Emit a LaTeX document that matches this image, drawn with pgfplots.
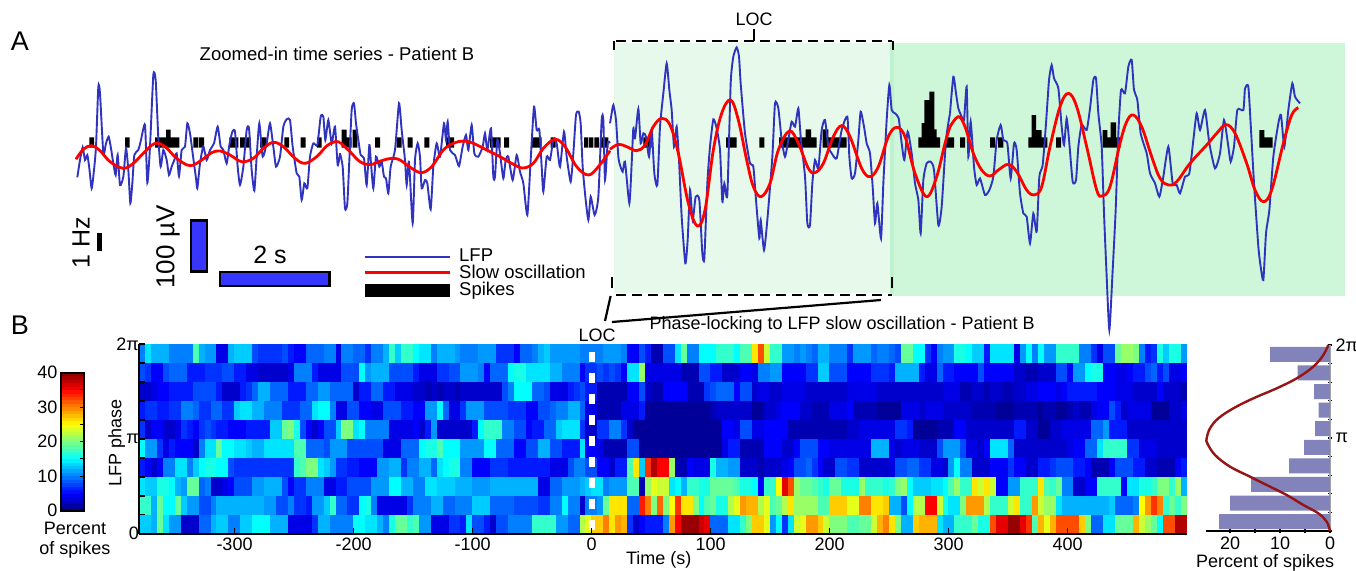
\documentclass[border=0pt]{standalone}
\usepackage{fontspec}
\setmainfont{Liberation Sans}
\usepackage{pgfplots}
\usepackage{pgfplotstable}
\pgfplotsset{compat=1.18}
\definecolor{lfp}{HTML}{2F33BE}
\definecolor{barblue}{HTML}{3636FF}
\definecolor{histbar}{HTML}{8383BB}
\definecolor{vm}{HTML}{971414}
\newcommand\fs{\fontsize{18}{20}\selectfont}
\newcommand\fl{\fontsize{18.5}{20}\selectfont}
\pgfplotstableread[row sep=\\,col sep=space,header=false]{
10 14 12 12 12 10 10 10 10 18  12 11 11 4 4 12 13 13 13 8  7 7 7 7 8 6 5 5 9 9  9 10 10 4 10 10 9 9 7 10
10 12 17 13 17 17 15 14 14 10  12 12 12 11 10 10 10 11 11 11  7 7 7 5 9 9 10 12 13 11  11 11 11 11 10 10 10 10 11 11
11 10 5 5 8 6 2 2 8 8  14 19 10 10 15 15 15 17 17 17  15 18 18 26 32 23 17 17 11 11  10 11 10 9 12 12 10 10 10 7
11 11 11 9 10 10 9 8 19 19  15 15 7 5 10 11 11 16 16 15  13 13 6 14 14 14 14 4 11 15  10 15 11 11 17 17 17 17 10 10
7 4 8 8 19 21 21 20 10 6  7 16 13 16 16 11 \\
8 7 5 5 8 9 9 9 6 6  6 7 7 7 8 8 6 6 4 4  3 3 3 3 3 4 10 10 10 6  4 4 4 4 8 8 8 15 11 12
12 12 8 8 8 8 6 4 4 4  7 7 8 8 11 11 11 10 5 9  9 9 15 16 16 14 14 14 14 12  12 10 10 10 5 7 7 8 7 8
7 5 14 14 21 4 4 4 4 4  4 2 2 2 8 8 6 6 3 3  3 5 5 4 10 10 11 11 5 5  5 5 7 7 13 13 8 8 8 5
5 5 5 7 7 7 6 12 12 12  12 6 4 4 9 6 6 5 5 5  5 8 5 5 5 5 5 3 3 2  2 3 3 3 8 8 5 11 11 15
16 16 5 5 4 4 5 6 6 8  9 6 8 4 4 5 \\
3 3 4 5 5 6 6 6 6 8  8 8 8 6 3 3 3 6 7 9  12 12 9 9 9 6 6 6 9 9  11 11 9 9 9 9 3 6 6 9
9 6 6 4 4 4 3 3 2 3  2 3 3 2 3 3 3 3 3 3  3 8 10 15 15 15 9 9 8 4  4 4 6 7 8 6 6 2 2 2
2 2 5 5 8 3 2 2 5 5  5 5 2 2 2 7 8 9 9 9  5 8 8 3 4 4 3 3 4 4  4 4 3 3 3 3 3 3 3 4
4 4 4 4 3 3 3 3 3 3  3 3 3 3 3 4 4 4 2 2  3 3 2 3 3 2 2 3 3 4  4 5 5 5 4 5 6 6 6 6
6 5 5 5 4 4 4 3 3 3  3 5 3 3 3 2 \\
6 7 7 6 6 7 7 10 10 9  7 7 9 9 7 7 13 14 14 12  12 10 10 10 7 7 7 9 9 14  15 15 10 4 4 8 8 5 5 4
4 8 8 8 6 6 5 5 11 11  15 9 4 4 7 11 11 11 8 8  8 8 7 7 7 5 5 8 8 9  10 10 12 12 9 4 4 2 2 2
2 4 4 4 6 1 1 1 1 1  1 1 1 1 1 1 2 3 3 3  3 3 3 1 1 3 3 4 5 5  5 3 3 2 2 2 4 4 4 5
2 2 2 2 1 1 1 1 4 4  4 3 4 4 4 3 3 3 3 3  2 2 2 2 1 1 1 2 2 2  2 1 2 2 1 1 2 3 2 2
4 5 5 8 6 3 4 4 4 4  1 1 1 3 3 4 \\
7 3 5 5 3 3 4 7 6 5  7 8 7 6 6 5 5 5 6 6  6 6 13 13 19 20 16 8 5 3  5 8 8 13 20 20 14 15 10 10
10 10 4 4 4 4 5 3 6 11  3 3 3 3 3 3 6 15 17 17  17 10 10 8 8 5 6 6 9 9  13 14 14 14 7 3 3 7 7 10
10 7 3 1 1 1 1 1 1 1  1 1 1 1 1 1 1 1 5 5  4 8 8 4 4 5 5 5 5 2  2 2 2 2 2 2 2 2 2 3
3 4 4 4 4 4 4 7 7 6  1 1 1 1 2 2 2 5 5 3  3 3 3 3 3 3 3 6 6 3  3 1 1 3 3 4 4 4 4 4
9 9 11 6 6 6 3 3 3 3  3 3 3 3 3 3 \\
15 11 11 7 4 6 5 5 5 3  10 14 14 19 15 15 14 14 13 12  12 14 14 14 14 14 18 18 9 9  9 8 11 11 11 8 8 8 8 8
8 4 4 4 9 9 9 15 16 16  18 15 15 15 11 11 11 11 15 15  9 9 9 5 5 8 8 12 12 8  8 6 6 6 14 5 5 4 2 2
2 2 8 8 1 1 1 1 1 1  1 1 1 1 1 1 1 1 4 6  6 2 2 2 2 5 5 5 3 3  5 8 8 8 5 5 4 4 4 4
4 4 4 12 12 12 4 3 4 4  4 3 3 3 8 11 11 11 8 4  4 3 5 14 14 14 9 3 3 3  3 3 3 3 3 3 4 5 5 9
9 14 17 17 17 17 7 7 4 4  4 3 3 3 3 3 \\
6 5 3 5 10 10 14 14 10 13  15 16 16 15 15 8 7 7 7 7  7 7 7 7 7 7 17 18 20 20  14 13 11 7 7 6 6 5 5 5
11 11 12 12 7 10 10 12 12 9  14 15 16 16 10 10 5 5 5 7  7 7 6 6 6 6 6 6 6 4  4 4 8 10 10 8 8 5 5 3
6 6 18 26 13 33 38 35 35 21  2 2 5 4 4 4 16 12 12 11  11 3 3 3 2 3 3 3 4 5  8 8 9 7 5 3 3 8 8 7
7 3 3 3 3 3 4 8 8 9  9 7 7 4 4 3 11 15 10 10  3 3 3 5 5 5 7 5 5 3  3 6 6 7 8 8 8 6 6 5
2 2 2 5 8 8 8 6 6 3  3 2 2 2 5 6 \\
14 13 13 16 16 15 12 11 19 19  9 10 3 3 4 5 8 8 8 11  11 12 12 12 8 5 7 7 10 10  10 4 4 6 6 8 8 8 8 11
11 11 15 15 12 12 10 10 14 14  13 13 13 12 12 12 11 11 11 12  12 12 12 12 12 12 12 4 4 9  9 11 11 11 12 13 14 14 10 11
11 11 18 18 2 21 24 23 23 14  15 12 17 17 16 16 19 19 19 19  18 16 16 15 5 17 17 25 36 32  21 19 19 18 17 16 19 19 16 16
16 21 17 17 17 16 17 20 21 15  13 13 13 14 14 15 18 21 17 17  26 23 26 23 5 5 11 11 17 17  17 26 18 17 19 10 10 3 3 5
5 17 17 17 17 5 14 14 16 16  17 20 20 17 21 12 \\
17 17 12 19 15 15 19 13 11 11  8 8 10 12 12 12 12 12 12 12  12 11 11 8 8 10 7 7 6 11  11 13 17 9 9 7 7 15 16 10
4 4 4 4 4 7 10 10 10 12  12 9 9 10 10 10 13 13 13 9  9 9 9 8 8 8 8 7 7 10  10 15 10 10 3 10 10 11 19 26
26 26 9 9 34 30 20 31 20 25  33 26 26 20 15 18 19 16 16 22  24 29 28 28 22 24 18 19 22 26  21 21 21 21 18 18 27 27 27 24
24 30 30 26 26 27 12 12 8 15  22 22 35 35 23 16 14 14 20 29  29 29 22 17 17 17 23 26 17 17  29 23 21 21 14 12 12 12 12 12
12 12 12 13 9 9 9 10 25 29  33 30 17 19 17 20 \\
13 13 12 19 14 11 11 3 3 3  9 9 12 13 13 10 10 13 13 15  15 15 12 12 12 4 4 4 4 7  12 12 10 10 10 10 15 15 14 14
12 10 16 19 19 17 18 11 11 4  4 4 7 7 6 14 8 8 6 3  8 8 10 10 10 10 17 17 17 17  11 11 9 9 22 24 27 27 30 26
29 28 7 3 5 6 6 6 10 29  35 39 39 39 37 36 9 9 9 14  14 17 20 27 27 24 11 15 7 14  23 24 29 29 27 23 20 20 20 18
18 19 19 23 28 30 26 20 12 12  27 28 28 28 14 12 12 17 17 17  19 16 16 32 36 36 39 39 36 33  18 28 24 28 32 32 32 32 27 20
9 9 14 14 19 19 19 28 23 21  19 15 32 32 38 38 \\
}\hmraw
\pgfplotstabletranspose\hm{\hmraw}
\begin{document}
\begin{tikzpicture}
\path[use as bounding box] (0pt,0pt) rectangle (1356pt,570pt);
% ---- panel A, in picture pixels
\begin{axis}[at={(0pt,0pt)},anchor=south west,scale only axis,width=1356pt,height=570pt,
  xmin=0,xmax=1356,ymin=0,ymax=570,y dir=reverse,hide axis,clip=false]
\fill[color={rgb,255:red,230;green,249;blue,234}] (axis cs:614,42.7) rectangle (axis cs:894,293.3);
\fill[color={rgb,255:red,206;green,247;blue,217}] (axis cs:890,43.3) rectangle (axis cs:1345,295.7);
\fill[color={rgb,255:red,190;green,242;blue,206}] (axis cs:890,43.3) rectangle (axis cs:894,293.3);
% spikes
\addplot[fill=black,draw=none,const plot,unbounded coords=jump] table[row sep=\\,header=false]{
89.3 147.5\\89.3 137.3\\94 147.5\\nan nan\\125 147.5\\125 137.3\\129.7 147.5\\nan nan\\155 147.5\\155 137.3\\166 129.5\\170.5 137.3\\179.3 147.5\\nan nan\\193.3 147.5\\193.3 137.3\\198.3 147.5\\nan nan\\199 147.5\\199 137.3\\204 147.5\\nan nan\\229.3 147.5\\229.3 137.3\\238.3 147.5\\nan nan\\240 147.5\\240 137.3\\250.7 147.5\\nan nan\\260 147.5\\260 137.3\\266.7 147.5\\nan nan\\284.3 147.5\\284.3 137.3\\289 147.5\\nan nan\\300.7 147.5\\300.7 137.3\\305.7 147.5\\nan nan\\317 147.5\\317 137.3\\321.7 147.5\\nan nan\\
341.7 147.5\\341.7 129.5\\346.7 137.3\\351.7 147.5\\nan nan\\352.7 147.5\\352.7 129.5\\357.3 147.5\\nan nan\\375 147.5\\375 137.3\\380 147.5\\nan nan\\396.7 147.5\\396.7 137.3\\401.7 147.5\\nan nan\\407.7 147.5\\407.7 137.3\\412.7 147.5\\nan nan\\424.3 147.5\\424.3 137.3\\429.3 147.5\\nan nan\\446 147.5\\446 137.3\\454 147.5\\nan nan\\490 147.5\\490 137.3\\495.3 147.5\\nan nan\\495.7 147.5\\495.7 137.3\\500.7 147.5\\nan nan\\504 147.5\\504 137.3\\509 147.5\\nan nan\\531.7 147.5\\531.7 137.3\\541.7 147.5\\nan nan\\550.7 147.5\\550.7 137.3\\555.7 147.5\\nan nan\\584 147.5\\584 137.3\\588.3 147.5\\nan nan\\589 147.5\\589 137.3\\593.3 147.5\\nan nan\\594.3 147.5\\594.3 137.3\\599 147.5\\nan nan\\600 147.5\\600 137.3\\608.3 147.5\\nan nan\\
643.3 147.5\\643.3 137.3\\651.7 147.5\\nan nan\\726 147.5\\726 137.3\\736.7 147.5\\nan nan\\759.3 147.5\\759.3 137.3\\764.3 147.5\\nan nan\\779 147.5\\779 137.3\\805.7 129.3\\811 137.3\\816.7 147.5\\nan nan\\822.7 147.5\\822.7 129.3\\828.3 137.3\\846.7 147.5\\nan nan\\918.3 147.5\\918.3 137.3\\921.7 123\\924.3 100\\929.3 91.7\\934.3 129.3\\936.7 137.3\\940 147.5\\nan nan\\945 147.5\\945 137.3\\954 147.5\\nan nan\\960 147.5\\960 137.3\\965 147.5\\nan nan\\
990 147.5\\990 137.3\\995 147.5\\nan nan\\998 147.5\\998 137.3\\1003.3 147.5\\nan nan\\1028.3 147.5\\1028.3 137.3\\1031.7 115\\1036 130\\1041.7 137.3\\1047.3 147.5\\nan nan\\1056 147.5\\1056 137.3\\1061 147.5\\nan nan\\1102.7 147.5\\1102.7 130\\1107.3 137.3\\1110.7 122.3\\1116 137.3\\1120.7 147.5\\nan nan\\1259.3 147.5\\1259.3 130\\1264.3 137.3\\1272.7 147.5\\
};
% LFP, four stretches
\addplot[lfp,line width=1.9pt,smooth,tension=0.35] table[row sep=\\,header=false,x expr=70+\thisrowno{0}/3,y expr=60+\thisrowno{1}/3]{
22 352\\30 300\\38 262\\45 300\\52 285\\58 325\\65 385\\72 330\\78 260\\85 80\\90 100\\100 280\\108 250\\116 230\\123 265\\130 310\\137 345\\143 285\\150 375\\160 350\\168 265\\175 330\\181 430\\187 370\\193 285\\205 270\\213 240\\225 195\\232 368\\240 260\\250 45\\257 60\\265 235\\272 320\\280 270\\290 300\\297 345\\305 320\\313 300\\320 280\\327 348\\335 270\\345 260\\352 190\\360 220\\368 280\\378 355\\382 385\\390 310\\400 260\\410 300\\420 270\\432 250\\443 200\\452 260\\460 270\\470 310\\478 255\\487 215\\495 215\\503 320\\510 375\\520 320\\530 210\\537 205\\545 330\\553 392\\560 290\\568 190\\578 290\\590 250\\600 190\\610 260\\618 320\\630 290\\640 200\\650 178\\660 180\\668 260\\680 340\\688 350\\695 420\\703 370\\712 385\\720 290\\730 250\\742 255\\752 170\\760 170\\766 240\\775 180\\785 250\\795 200\\803 315\\810 280\\
};
\addplot[lfp,line width=1.9pt,smooth,tension=0.35] table[row sep=\\,header=false,x expr=340+\thisrowno{0}/3,y expr=60+\thisrowno{1}/3]{
0 280\\8 320\\15 445\\22 430\\28 300\\35 150\\42 130\\48 190\\55 240\\62 285\\72 295\\80 375\\88 255\\93 310\\100 385\\108 290\\118 320\\125 305\\132 350\\138 355\\145 400\\152 320\\165 270\\177 130\\185 210\\195 300\\200 375\\207 305\\218 490\\225 300\\233 250\\240 290\\245 385\\255 360\\262 370\\272 448\\280 320\\290 250\\300 290\\312 190\\318 240\\323 185\\330 270\\345 285\\357 318\\368 260\\378 225\\385 270\\395 195\\403 280\\415 290\\428 260\\435 220\\442 270\\453 205\\460 350\\465 350\\472 240\\480 280\\490 355\\497 300\\505 290\\518 360\\530 285\\540 335\\550 370\\562 465\\572 300\\582 140\\590 210\\598 210\\605 320\\610 395\\620 290\\630 300\\640 240\\650 250\\660 320\\672 215\\680 290\\692 365\\700 280\\708 165\\716 155\\722 190\\728 320\\736 410\\745 480\\752 410\\764 465\\775 410\\785 180\\790 180\\795 360\\803 250\\810 249\\
};
\addplot[lfp,line width=1.9pt,smooth,tension=0.35] table[row sep=\\,header=false,x expr=610+\thisrowno{0}/3,y expr=40+\thisrowno{1}/3]{
0 250\\5 220\\10 195\\18 240\\25 350\\30 375\\38 395\\45 365\\58 490\\65 370\\70 265\\75 295\\85 207\\92 310\\100 280\\108 290\\117 350\\125 270\\133 400\\142 435\\150 260\\160 160\\170 70\\178 150\\185 210\\192 320\\200 260\\207 360\\215 530\\226 670\\233 600\\240 450\\248 540\\257 470\\268 480\\277 640\\283 655\\292 430\\300 320\\310 238\\320 265\\330 330\\337 485\\343 430\\352 465\\362 130\\370 50\\380 22\\387 50\\392 130\\405 280\\420 370\\430 380\\438 480\\448 595\\452 540\\462 630\\472 540\\487 350\\495 190\\505 205\\515 300\\525 350\\535 300\\545 245\\555 260\\565 205\\572 290\\585 410\\592 550\\600 555\\607 430\\615 360\\625 385\\635 270\\645 240\\655 320\\665 340\\680 355\\695 270\\712 230\\718 350\\725 415\\735 400\\745 300\\752 215\\762 260\\770 310\\780 340\\788 440\\795 550\\802 490\\813 595\\820 430\\830 240\\838 135\\845 210\\855 220\\866 235\\875 310\\883 360\\893 275\\905 340\\915 430\\925 480\\932 580\\940 420\\950 370\\962 365\\972 390\\985 555\\995 500\\1008 300\\1020 220\\
};
\addplot[lfp,line width=1.9pt,smooth,tension=0.35] table[row sep=\\,header=false,x expr=950+\thisrowno{0}/3,y expr=50+\thisrowno{1}/3]{
0 190\\10 80\\18 130\\25 175\\35 200\\42 210\\50 110\\55 320\\62 215\\72 350\\80 405\\90 385\\105 435\\118 420\\130 380\\140 270\\152 225\\160 270\\172 280\\182 385\\192 280\\200 300\\210 430\\220 490\\230 500\\240 580\\250 490\\260 545\\268 380\\278 345\\288 220\\297 90\\305 45\\312 85\\325 115\\335 230\\342 285\\350 205\\358 280\\368 395\\378 390\\385 290\\395 225\\410 240\\420 175\\430 90\\438 85\\445 190\\455 290\\462 490\\470 680\\478 840\\487 680\\497 480\\505 250\\513 120\\525 130\\535 50\\545 30\\552 120\\562 150\\572 250\\590 310\\600 370\\615 400\\628 440\\640 380\\655 290\\668 400\\680 405\\690 430\\705 380\\718 370\\730 270\\740 190\\750 240\\765 180\\778 280\\795 355\\810 310\\822 210\\835 290\\842 335\\852 290\\862 180\\880 180\\885 115\\895 110\\903 240\\912 400\\925 590\\932 650\\940 690\\948 550\\958 480\\970 320\\985 220\\993 195\\1003 290\\1015 180\\1027 100\\1035 140\\1050 160\\
};
% slow oscillation
\addplot[red,line width=2.8pt,smooth,tension=0.6] table[row sep=\\,header=false,x expr=70+\thisrowno{0}/3,y expr=60+\thisrowno{1}/3]{
18 298\\40 268\\65 257\\90 272\\120 305\\160 325\\190 310\\220 280\\255 250\\285 260\\320 295\\360 317\\395 300\\425 278\\450 273\\480 285\\515 305\\550 295\\580 265\\610 247\\640 260\\675 295\\705 310\\740 290\\770 258\\795 245\\810 247\\
};
\addplot[red,line width=2.8pt,smooth,tension=0.6] table[row sep=\\,header=false,x expr=340+\thisrowno{0}/3,y expr=60+\thisrowno{1}/3]{
0 247\\30 275\\60 305\\90 314\\125 302\\155 295\\180 300\\215 325\\245 338\\275 320\\310 270\\340 250\\370 243\\400 250\\440 270\\480 290\\515 310\\548 324\\580 310\\610 265\\645 238\\675 260\\710 320\\745 345\\775 320\\810 272\\
};
\addplot[red,line width=2.8pt,smooth,tension=0.6] table[row sep=\\,header=false,x expr=610+\thisrowno{0}/3,y expr=40+\thisrowno{1}/3]{
0 328\\25 313\\50 320\\80 332\\105 315\\130 260\\155 235\\180 255\\205 340\\235 490\\262 558\\285 510\\310 330\\335 220\\362 180\\385 240\\410 360\\430 440\\453 470\\480 430\\505 330\\538 273\\565 310\\595 385\\615 398\\640 370\\670 290\\695 257\\720 290\\755 385\\780 410\\805 380\\835 290\\860 262\\885 290\\915 400\\950 470\\980 410\\1005 310\\1020 260\\
};
\addplot[red,line width=2.8pt,smooth,tension=0.6] table[row sep=\\,header=false,x expr=950+\thisrowno{0}/3,y expr=50+\thisrowno{1}/3]{
0 230\\25 200\\45 230\\70 310\\95 360\\120 378\\145 360\\175 343\\200 365\\230 420\\252 435\\275 410\\300 290\\330 170\\355 130\\380 170\\410 290\\440 420\\457 438\\480 410\\510 280\\530 215\\550 195\\575 230\\605 320\\630 385\\655 405\\680 395\\720 340\\770 285\\800 250\\828 224\\855 250\\890 340\\915 420\\940 455\\965 420\\1000 280\\1025 195\\1045 173\\
};
% dashed box and leaders
\draw[black,line width=2.4pt,dash pattern=on 10pt off 6pt] (axis cs:616,41)--(axis cs:892,41);
\draw[black,line width=2.4pt,dash pattern=on 10pt off 6pt] (axis cs:616,295)--(axis cs:892,295);
\draw[black,line width=2.2pt] (axis cs:614,41)--(axis cs:614,50);
\draw[black,line width=2.2pt] (axis cs:892.7,41)--(axis cs:892.7,50);
\draw[black,line width=2.2pt] (axis cs:612,277)--(axis cs:612,288);
\draw[black,line width=2.2pt] (axis cs:892,277)--(axis cs:892,288);
\draw[black,line width=2.2pt] (axis cs:754,29)--(axis cs:754,41);
\draw[black,line width=2.2pt] (axis cs:610.6,296)--(axis cs:605,321);
\draw[black,line width=2.2pt] (axis cs:612,322)--(axis cs:881,300);
\node[font=\fs] at (axis cs:754,19) {LOC};
\node[font=\fl] at (axis cs:337,54) {Zoomed-in time series - Patient B};
\node[font=\fontsize{27}{30}\selectfont] at (axis cs:20,41) {A};
\node[font=\fontsize{27}{30}\selectfont] at (axis cs:20,325) {B};
% scale bars
\fill[black] (axis cs:97,233) rectangle (axis cs:102,251);
\node[font=\fontsize{25}{28}\selectfont,rotate=90] at (axis cs:81,243) {1 Hz};
\draw[black,line width=2.5pt,fill=barblue] (axis cs:191,220.5) rectangle (axis cs:207,271.5);
\node[font=\fontsize{26}{28}\selectfont,rotate=90] at (axis cs:168,247) {100 µV};
\draw[black,line width=2.5pt,fill=barblue] (axis cs:220,272) rectangle (axis cs:329.5,286);
\node[font=\fontsize{25}{28}\selectfont] at (axis cs:270,255) {2 s};
% legend
\draw[lfp,line width=2pt] (axis cs:364.5,256.7)--(axis cs:449.7,256.7);
\draw[red,line width=2.6pt] (axis cs:364.5,272.3)--(axis cs:449.7,272.3);
\fill[black] (axis cs:364.5,284) rectangle (axis cs:449.7,296.7);
\node[font=\fl,anchor=west,inner sep=0pt] at (axis cs:459,255) {LFP};
\node[font=\fl,anchor=west,inner sep=0pt] at (axis cs:459,272) {Slow oscillation};
\node[font=\fl,anchor=west,inner sep=0pt] at (axis cs:459,291) {Spikes};
\node[font=\fs] at (axis cs:597,335) {LOC};
\node[font=\fs] at (axis cs:75,528) {Percent};
\node[font=\fs] at (axis cs:75,550) {of spikes};
\end{axis}
% ---- colour scale: colours, then frame and ticks over them
\begin{axis}[at={(61pt,59.3pt)},anchor=south west,scale only axis,width=23pt,height=138pt,
  xmin=0,xmax=1,ymin=0,ymax=40,hide axis,
  colormap/jet,point meta min=0,point meta max=40]
\addplot[scatter,only marks,mark=-,mark size=12pt,point meta=y,
  scatter/use mapped color={draw=mapped color,fill=mapped color},
  mark options={line width=3.8pt}] coordinates {
(0.5,0.5)(0.5,1.5)(0.5,2.5)(0.5,3.5)(0.5,4.5)(0.5,5.5)(0.5,6.5)(0.5,7.5)(0.5,8.5)(0.5,9.5)
(0.5,10.5)(0.5,11.5)(0.5,12.5)(0.5,13.5)(0.5,14.5)(0.5,15.5)(0.5,16.5)(0.5,17.5)(0.5,18.5)(0.5,19.5)
(0.5,20.5)(0.5,21.5)(0.5,22.5)(0.5,23.5)(0.5,24.5)(0.5,25.5)(0.5,26.5)(0.5,27.5)(0.5,28.5)(0.5,29.5)
(0.5,30.5)(0.5,31.5)(0.5,32.5)(0.5,33.5)(0.5,34.5)(0.5,35.5)(0.5,36.5)(0.5,37.5)(0.5,38.5)(0.5,39.5)};
\end{axis}
\begin{axis}[at={(61pt,59.3pt)},anchor=south west,scale only axis,width=23pt,height=138pt,
  xmin=0,xmax=1,ymin=0,ymax=40,
  xtick=\empty,ytick={0,10,20,30,40},minor y tick num=1,
  ytick pos=right,yticklabel pos=left,
  tick align=inside,major tick length=4pt,minor tick length=4pt,
  tick label style={font=\fs,/pgf/number format/assume math mode=true},
  axis line style={line width=1.8pt},
  every tick/.style={black,line width=1pt},
  every minor tick/.style={black,line width=1pt}]
\end{axis}
% ---- panel B heat map
\begin{axis}[at={(139.3pt,36.3pt)},anchor=south west,scale only axis,width=1047.4pt,height=189.7pt,
  xmin=-380,xmax=500,ymin=0,ymax=6.2832,hide axis,
  colormap/jet,point meta min=0,point meta max=40]
\pgfplotsinvokeforeach{0,...,9}{
  \addplot[scatter,only marks,mark=|,mark size=9.6pt,
    scatter/use mapped color={draw=mapped color,fill=mapped color},
    mark options={line width=6.3pt},scatter src=explicit]
   table[x expr=-377.5+5*\coordindex,y expr={(9-#1+0.5)*0.62832},meta expr=\thisrow{#1}]{\hm};
}
\end{axis}
% ---- LOC marker, axis lines, ticks and labels over the heat map, same scale
\begin{axis}[at={(139.3pt,36.3pt)},anchor=south west,scale only axis,width=1047.4pt,height=189.7pt,
  xmin=-380,xmax=500,ymin=0,ymax=6.2832,
  axis x line*=bottom,axis y line*=left,axis on top,
  axis line style={line width=2.2pt,-},
  tick align=inside,major tick length=6pt,
  every tick/.style={black,line width=1.5pt},
  xtick={-300,-200,-100,0,100,200,300,400},
  xticklabels={-300,-200,-100,0,100,200,300,400},
  ytick={0,0.6283,1.2566,1.885,2.5133,3.1416,3.7699,4.3982,5.0265,5.6549,6.2832},
  yticklabels={0,,,,,π,,,,,2π},
  tick label style={font=\fs},
  xticklabel style={yshift=-1pt},
  yticklabel style={xshift=3pt},
  title={Phase-locking to LFP slow oscillation - Patient B},
  title style={font=\fs,at={(axis description cs:0.671,1.0686)},anchor=center},
  xlabel={Time (s)},xlabel style={font=\fs,at={(axis description cs:0.496,-0.139)},anchor=center},
  ylabel={LFP phase},ylabel style={font=\fs,at={(axis description cs:-0.0216,0.478)},anchor=center,rotate=0}]
\addplot[white,line width=6pt,dash pattern=on 10pt off 11pt] coordinates {(0,6.03) (0,0.05)};
\end{axis}
% ---- marginal histogram
\begin{axis}[at={(1206pt,39pt)},anchor=south west,scale only axis,width=124pt,height=186pt,
  xmin=0,xmax=24.8,ymin=0,ymax=6.2832,x dir=reverse,clip=false,
  axis x line*=bottom,axis y line*=right,
  x axis line style={line width=1.5pt,black,-},
  y axis line style={line width=1.5pt,gray!70,-},
  tick align=center,major tick length=4pt,
  every tick/.style={black,line width=1.2pt},
  xtick={0,5,10,15,20},xticklabels={0,,10,,20},
  ytick={0,0.6283,1.2566,1.885,2.5133,3.1416,3.7699,4.3982,5.0265,5.6549,6.2832},
  yticklabels={,,,,,π,,,,,2π},
  tick label style={font=\fs},
  xlabel={Percent of spikes},xlabel style={font=\fs,at={(axis description cs:0.476,-0.172)},anchor=center},
]
\addplot[xbar,bar width=15pt,bar shift=0pt,fill=histbar,draw=none] table[row sep=\\,header=false]{
22.2 0.314\\20 0.942\\15.8 1.571\\8.2 2.199\\5.2 2.827\\3 3.456\\2.3 4.084\\3.2 4.712\\6.5 5.341\\12 5.969\\
};
\addplot[vm,line width=2.4pt,smooth,tension=0.6] table[row sep=\\,header=false,x expr=(420-\thisrowno{0})/15,y expr=(603-\thisrowno{1})/558*6.2832]{
420 603\\410 575\\385 550\\340 525\\290 495\\230 465\\180 440\\120 410\\75 375\\52 340\\50 325\\60 295\\85 265\\130 235\\190 205\\260 175\\320 145\\370 110\\400 75\\415 45\\
};
\end{axis}
\end{tikzpicture}
\end{document}
